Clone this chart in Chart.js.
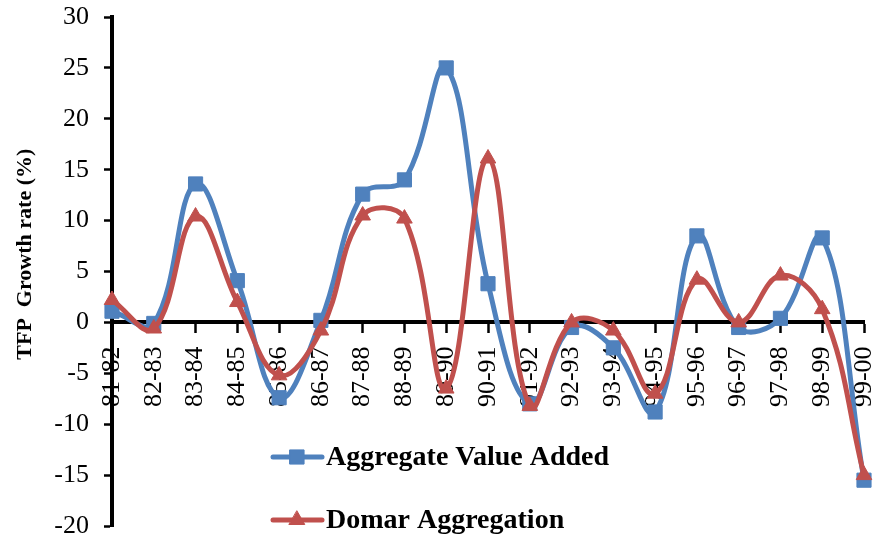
<!DOCTYPE html>
<html>
<head>
<meta charset="utf-8">
<script src="https://cdn.jsdelivr.net/npm/chart.js@4/dist/chart.umd.min.js"></script>
<style>
  html, body { margin: 0; padding: 0; background: #ffffff; }
  #wrap { width: 877px; height: 542px; }
</style>
</head>
<body>
<div id="wrap"><canvas id="tfp" width="877" height="542"></canvas></div>
<script>
// Period labels on the category axis
const periods = ['81-82','82-83','83-84','84-85','85-86','86-87','87-88','88-89','89-90',
                 '90-91','91-92','92-93','93-94','94-95','95-96','96-97','97-98','98-99','99-00'];

// TFP growth rate (%) by aggregation method
const valueAdded = [1.1, -0.1, 13.6, 4.1, -7.4, 0.2, 12.6, 14.0, 25.0, 3.8,
                    -8.0, -0.5, -2.5, -8.8, 8.5, -0.5, 0.4, 8.3, -15.5];
const domar      = [2.2, -0.6, 10.4, 2.0, -5.2, -0.8, 10.5, 10.2, -6.5, 16.1,
                    -8.2, 0.0, -0.8, -7.0, 4.2, 0.0, 4.6, 1.3, -15.0];

// Value axis range and step
const yMin = -20, yMax = 30, yStep = 5;

const seriesNames = ['Aggregate Value Added', 'Domar Aggregation'];
const yTitle = 'TFP  Growth rate (%)';

const BLUE = '#4F81BD';
const RED = '#C0504D';
const SERIF = '"Liberation Serif", "Times New Roman", serif';

// In-plot legend stacked under the curves, plus the rotated value-axis title
const overlay = {
  id: 'overlay',
  afterDraw(chart) {
    const ctx = chart.ctx;
    const area = chart.chartArea;
    ctx.save();
    ctx.fillStyle = '#000';
    ctx.font = 'bold 22px ' + SERIF;
    ctx.textAlign = 'center';
    ctx.textBaseline = 'middle';
    ctx.translate(25, area.top + (area.bottom - area.top) * 0.466);
    ctx.rotate(-Math.PI / 2);
    ctx.fillText(yTitle, 0, 0);
    ctx.restore();

    const rows = [457, 520];
    chart.data.datasets.forEach((ds, i) => {
      const y = rows[i];
      ctx.save();
      ctx.strokeStyle = ds.borderColor;
      ctx.lineWidth = 5;
      ctx.lineCap = 'round';
      ctx.beginPath();
      ctx.moveTo(273, y);
      ctx.lineTo(322, y);
      ctx.stroke();
      ctx.fillStyle = ds.borderColor;
      ctx.lineWidth = 1;
      Chart.helpers.drawPoint(ctx, {
        pointStyle: ds.pointStyle,
        radius: ds.pointRadius,
        borderWidth: 1,
        rotation: 0
      }, 297, y);
      ctx.fillStyle = '#000';
      ctx.font = 'bold 28px ' + SERIF;
      ctx.textAlign = 'left';
      ctx.textBaseline = 'middle';
      ctx.fillText(ds.label, 326, y + 1);
      ctx.restore();
    });
  }
};

new Chart(document.getElementById('tfp'), {
  type: 'line',
  data: {
    labels: periods,
    datasets: [
      {
        label: seriesNames[0],
        data: valueAdded,
        borderColor: BLUE,
        backgroundColor: BLUE,
        borderWidth: 5,
        pointStyle: 'rect',
        pointRadius: 10,
        pointBorderWidth: 1,
        tension: 0.4,
        order: 1
      },
      {
        label: seriesNames[1],
        data: domar,
        borderColor: RED,
        backgroundColor: RED,
        borderWidth: 5,
        pointStyle: 'triangle',
        pointRadius: 9,
        pointBorderWidth: 1,
        tension: 0.4,
        order: 0
      }
    ]
  },
  options: {
    responsive: false,
    animation: false,
    events: [],
    layout: { padding: { left: 0, right: 13, top: 17, bottom: 16 } },
    plugins: { legend: { display: false }, tooltip: { enabled: false } },
    scales: {
      x: {
        type: 'category',
        offset: false,
        position: { y: 0 },
        afterFit(scale) {
          scale.height = 0;
          scale.paddingLeft = 0;
          scale.paddingRight = 0;
        },
        grid: { drawOnChartArea: false, drawTicks: true, tickLength: 9, tickWidth: 2.5, tickColor: '#000' },
        border: { display: true, color: '#000', width: 4 },
        ticks: {
          color: '#000',
          font: { family: SERIF, size: 26 },
          minRotation: 90,
          maxRotation: 90,
          autoSkip: false,
          padding: 15
        }
      },
      y: {
        min: yMin,
        max: yMax,
        afterFit(scale) {
          scale.width = 112;
          scale.paddingTop = 0;
          scale.paddingBottom = 0;
        },
        grid: { drawOnChartArea: false, drawTicks: true, tickLength: 8, tickWidth: 2.5, tickColor: '#000' },
        border: { display: true, color: '#000', width: 4 },
        ticks: {
          stepSize: yStep,
          color: '#000',
          font: { family: SERIF, size: 26 },
          padding: 15
        }
      }
    }
  },
  plugins: [overlay]
});
</script>
</body>
</html>
